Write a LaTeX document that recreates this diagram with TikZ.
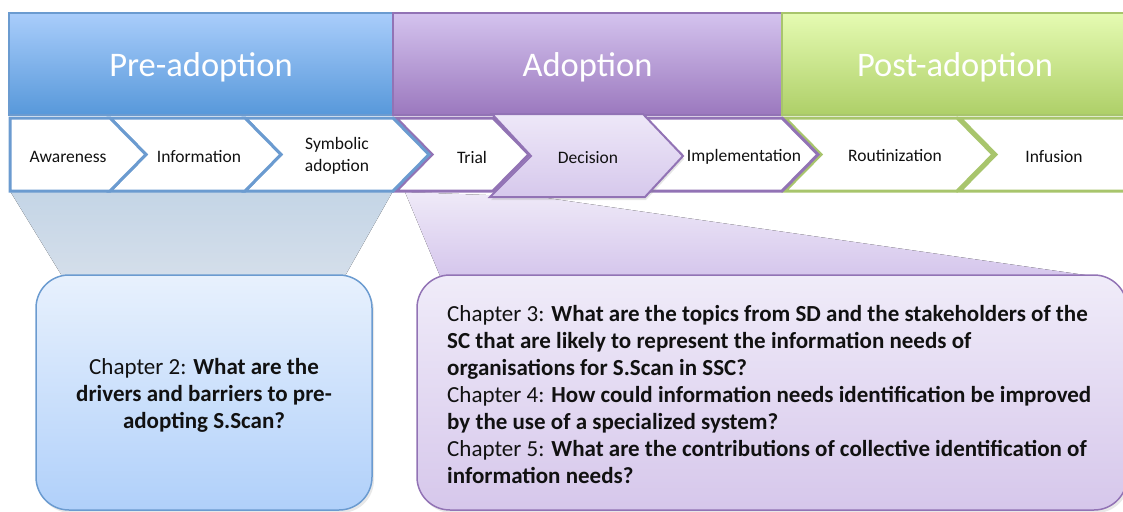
\documentclass[tikz,border=0pt]{standalone}
\usepackage{fontspec}
\setmainfont{Carlito}
\usetikzlibrary{shadows}
\definecolor{bluebd}{HTML}{6B9BD0}
\definecolor{purpbd}{HTML}{9273B5}
\definecolor{greenbd}{HTML}{A8C56C}
\definecolor{bluetop}{HTML}{A9CDFB}
\definecolor{bluebot}{HTML}{5798DA}
\definecolor{purptop}{HTML}{D4C3EE}
\definecolor{purpbot}{HTML}{9B78BE}
\definecolor{greentop}{HTML}{E5FBB2}
\definecolor{greenbot}{HTML}{AECF68}
\definecolor{txt}{HTML}{111111}
\tikzset{
  header/.style={draw=#1bd, line width=1.5pt, top color=#1top, bottom color=#1bot, inner sep=0pt},
  headtext/.style={text=white, font=\fontsize{34.5}{40}\selectfont, inner sep=0pt},
  chev/.style={draw=#1, line width=3pt, fill=white, line join=miter},
  chevlabel/.style={font=\fontsize{17.5}{22}\selectfont, text=txt, align=center, inner sep=0pt},
  funnel/.style={draw=none},
  qbox/.style={rounded corners=33pt, line width=1.5pt, inner sep=0pt,
    drop shadow={opacity=0.18, shadow xshift=2pt, shadow yshift=-3pt}},
  qtext/.style={font=\fontsize{23}{27}\selectfont, text=txt, inner sep=0pt},
}
\begin{document}
\begin{tikzpicture}[x=1pt,y=-1pt]
\useasboundingbox (0,0) rectangle (1123,511);

% funnels
\fill[funnel, top color={rgb,255:red,196;green,213;blue,230}, bottom color={rgb,255:red,212;green,222;blue,234}]
  (10,191) -- (393,191) -- (345,276) -- (62,276) -- cycle;
\fill[funnel, top color={rgb,255:red,239;green,234;blue,248}, bottom color={rgb,255:red,213;green,198;blue,236}]
  (405,192) -- (540,197) -- (1092,276) -- (440,276) -- cycle;

% headers
\node[header=blue, minimum width=384pt, minimum height=102pt] (pre) at (201,64) {};
\node[header=purp, minimum width=389pt, minimum height=102pt] (adop) at (587.5,64) {};
\node[header=green, minimum width=346pt, minimum height=102pt] (post) at (955,64) {};
\node[headtext] (pret) at (201,67) {Pre-adoption};
\node[headtext] (adopt) at (587.5,67) {Adoption};
\node[headtext] (postt) at (955,67) {Post-adoption};

% chevrons
\draw[chev=greenbd] (960,118) -- (1135,118) -- (1135,191) -- (960,191) -- (996,154.5) -- cycle;
\draw[chev=greenbd] (785,118) -- (957,118) -- (993,154.5) -- (957,191) -- (785,191) -- (821,154.5) -- cycle;
\draw[chev=purpbd] (643,118) -- (782,118) -- (818,154.5) -- (782,191) -- (643,191) -- (681,154.5) -- cycle;
\draw[chev=purpbd] (396,118) -- (493,118) -- (529,154.5) -- (493,191) -- (396,191) -- (432,154.5) -- cycle;
\draw[chev=bluebd] (245,118) -- (393,118) -- (429,154.5) -- (393,191) -- (245,191) -- (281,154.5) -- cycle;
\draw[chev=bluebd] (110,118) -- (245,118) -- (281,154.5) -- (245,191) -- (110,191) -- (146,154.5) -- cycle;
\draw[chev=bluebd] (10,118) -- (110,118) -- (146,154.5) -- (110,191) -- (10,191) -- cycle;
\draw[draw=purpbd, line width=2pt, line join=miter,
  top color={rgb,255:red,238;green,232;blue,248}, bottom color={rgb,255:red,214;green,200;blue,236},
  drop shadow={opacity=0.2, shadow xshift=1pt, shadow yshift=-3pt}]
  (492,114) -- (643,114) -- (683,156) -- (645,197) -- (490,197) -- (531,156) -- cycle;

% chevron labels
\node[chevlabel] (aw) at (68,157) {Awareness};
\node[chevlabel] (inf) at (199,157) {Information};
\node[chevlabel] (sym) at (337,156) {Symbolic\\adoption};
\node[chevlabel] (trial) at (472,157) {Trial};
\node[chevlabel] (dec) at (588,158) {Decision};
\node[chevlabel] (impl) at (744,157) {Implementation};
\node[chevlabel] (rout) at (895,156) {Routinization};
\node[chevlabel] (infu) at (1054,157) {Infusion};

% question boxes
\node[qbox, draw=bluebd, top color={rgb,255:red,232;green,241;blue,253}, bottom color={rgb,255:red,176;green,208;blue,250},
  minimum width=336pt, minimum height=235pt] (q2) at (204,392.5) {};
\node[qtext, align=center] (q2t) at (204,395.5)
  {Chapter 2: \textbf{What are the}\\\textbf{drivers and barriers to pre-}\\\textbf{adopting S.Scan?}};
\node[qbox, draw=purpbd, top color={rgb,255:red,240;green,236;blue,249}, bottom color={rgb,255:red,214;green,199;blue,235},
  minimum width=710pt, minimum height=235pt] (q3) at (772,392.5) {};
\node[qtext, align=left, anchor=west] (q3t) at (447,394.5)
  {Chapter 3: \textbf{What are the topics from SD and the stakeholders of the}\\
   \textbf{SC that are likely to represent the information needs of}\\
   \textbf{organisations for S.Scan in SSC?}\\
   Chapter 4: \textbf{How could information needs identification be improved}\\
   \textbf{by the use of a specialized system?}\\
   Chapter 5: \textbf{What are the contributions of collective identification of}\\
   \textbf{information needs?}};
\end{tikzpicture}
\end{document}
